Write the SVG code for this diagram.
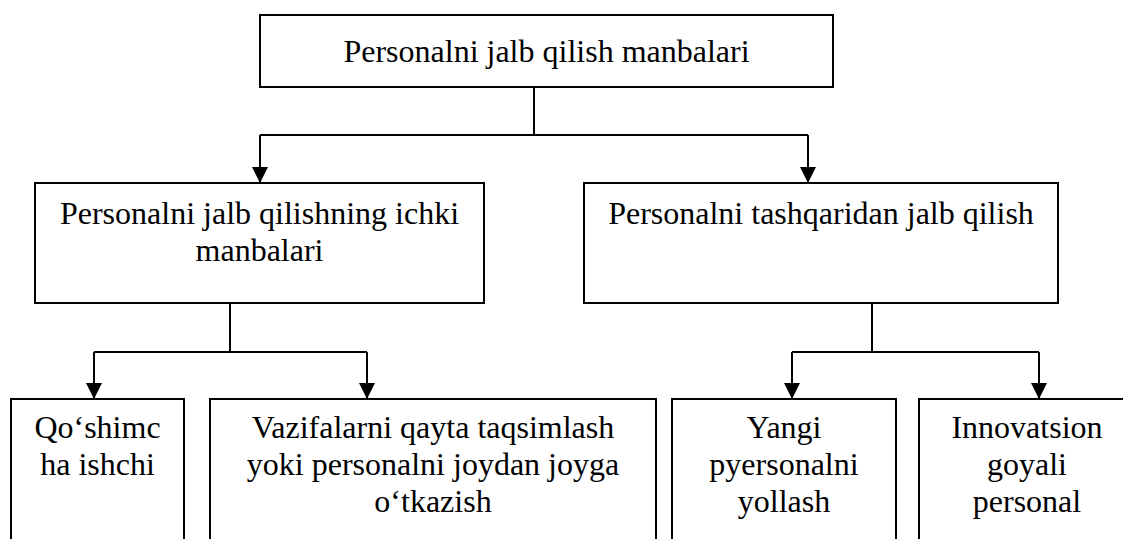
<svg xmlns="http://www.w3.org/2000/svg" width="1123" height="539" viewBox="0 0 1123 539">
<style>
.box{fill:#fff;stroke:#000;stroke-width:2}
.lbl{font-family:"Liberation Serif","Times New Roman",serif;font-size:32px;fill:#000;text-anchor:middle}
.con{fill:none;stroke:#000;stroke-width:2}
</style>
<defs>
<marker id="arr" markerUnits="userSpaceOnUse" markerWidth="16" markerHeight="16" refX="16" refY="8" orient="auto">
<path d="M0,0 L16,8 L0,16 Z" fill="#000"/>
</marker>
</defs>
<rect width="1123" height="539" fill="#fff"/>
<g id="connectors">
<path class="con" d="M534,87 V135 M260,135 H808"/>
<path class="con" d="M260,135 V183" marker-end="url(#arr)"/>
<path class="con" d="M808,135 V183" marker-end="url(#arr)"/>
<path class="con" d="M230,303 V352 M94,352 H367"/>
<path class="con" d="M94,352 V399" marker-end="url(#arr)"/>
<path class="con" d="M367,352 V399" marker-end="url(#arr)"/>
<path class="con" d="M872,303 V352 M792,352 H1039"/>
<path class="con" d="M792,352 V399" marker-end="url(#arr)"/>
<path class="con" d="M1039,352 V399" marker-end="url(#arr)"/>
</g>
<g id="root">
<rect class="box" x="260" y="15" width="573" height="72"/>
<text class="lbl" x="546.5" y="62">Personalni jalb qilish manbalari</text>
</g>
<g id="internal">
<rect class="box" x="35" y="183" width="449" height="120"/>
<text class="lbl" x="259.5" y="224">Personalni jalb qilishning ichki</text>
<text class="lbl" x="259.5" y="261">manbalari</text>
</g>
<g id="external">
<rect class="box" x="584" y="183" width="474" height="120"/>
<text class="lbl" x="821" y="224">Personalni tashqaridan jalb qilish</text>
</g>
<g id="additional">
<rect class="box" x="11" y="399" width="173" height="200"/>
<text class="lbl" x="97.5" y="438">Qo‘shimc</text>
<text class="lbl" x="97.5" y="475">ha ishchi</text>
</g>
<g id="redistribution">
<rect class="box" x="210" y="399" width="446" height="200"/>
<text class="lbl" x="433" y="438">Vazifalarni qayta taqsimlash</text>
<text class="lbl" x="433" y="475">yoki personalni joydan joyga</text>
<text class="lbl" x="433" y="512">o‘tkazish</text>
</g>
<g id="new-hire">
<rect class="box" x="672" y="399" width="224" height="200"/>
<text class="lbl" x="784" y="438">Yangi</text>
<text class="lbl" x="784" y="475">pyersonalni</text>
<text class="lbl" x="784" y="512">yollash</text>
</g>
<g id="innovative">
<rect class="box" x="919" y="399" width="216" height="200"/>
<text class="lbl" x="1027" y="438">Innovatsion</text>
<text class="lbl" x="1027" y="475">goyali</text>
<text class="lbl" x="1027" y="512">personal</text>
</g>
</svg>
